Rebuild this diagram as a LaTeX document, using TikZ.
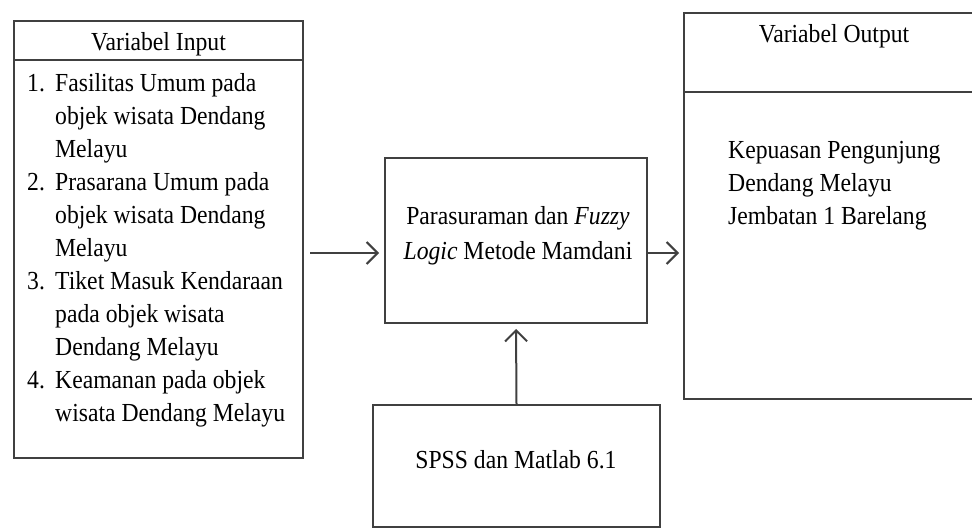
\documentclass[tikz,border=0pt]{standalone}
\usepackage{fontspec}
\setmainfont{Liberation Serif}[FakeStretch=0.91]
\usepackage{tikz}
\usetikzlibrary{arrows.meta}

\begin{document}
\begin{tikzpicture}[x=1pt,y=-1pt,
    box/.style={rectangle,draw=black!75,line width=2pt,inner sep=0pt},
    txt/.style={inner sep=0pt,text=black,font=\fontsize{26}{33}\selectfont},
    arr/.style={draw=black!75,line width=2pt,-{Straight Barb[length=11pt,width=22pt,line width=2pt]}}]

\useasboundingbox (0,0) rectangle (972,529);
\clip (0,0) rectangle (972,529);

% Boxes
\node[box,minimum width=289pt,minimum height=437pt] (input) at (158.5,239.5) {};
\node[box,minimum width=262pt,minimum height=165pt] (mid) at (516,240.5) {};
\node[box,minimum width=287pt,minimum height=122pt] (tool) at (516.5,466) {};
\node[box,minimum width=301pt,minimum height=386pt] (output) at (834.5,206) {};

% Header lines of the two variable boxes
\draw[draw=black!75,line width=2pt] ([yshift=-40pt]input.north west) -- ([yshift=-40pt]input.north east);
\draw[draw=black!75,line width=2pt] ([yshift=-80pt]output.north west) -- ([yshift=-80pt]output.north east);

% Texts
\node[txt] (intitle) at (158.5,44) {Variabel Input};
\node[txt,anchor=north west] (inlist) at (27,68) {%
\begin{tabular}{@{}p{28pt}@{}l@{}}
1. & Fasilitas Umum pada\\
   & objek wisata Dendang\\
   & Melayu\\
2. & Prasarana Umum pada\\
   & objek wisata Dendang\\
   & Melayu\\
3. & Tiket Masuk Kendaraan\\
   & pada objek wisata\\
   & Dendang Melayu\\
4. & Keamanan pada objek\\
   & wisata Dendang Melayu
\end{tabular}};
\node[txt,align=center,font=\fontsize{26}{35}\selectfont] (midtext) at (518,236)
    {Parasuraman dan \textit{Fuzzy}\\ \textit{Logic} Metode Mamdani};
\node[txt] (tooltext) at (516,460) {SPSS dan Matlab 6.1};
\node[txt] (outtitle) at (834,36) {Variabel Output};
\node[txt,align=left,anchor=west] (outtext) at (728,186)
    {Kepuasan Pengunjung\\ Dendang Melayu\\ Jembatan 1 Barelang};

% Connectors
\coordinate (flow) at (0,253);
\draw[arr,shorten <=6pt,shorten >=5pt] (input.east |- flow) -- (mid.west |- flow);
\draw[arr,shorten >=4pt] (mid.east |- flow) -- (output.west |- flow);
\draw[arr,shorten >=5pt] (tool.north) -- (mid.south);

\end{tikzpicture}
\end{document}
